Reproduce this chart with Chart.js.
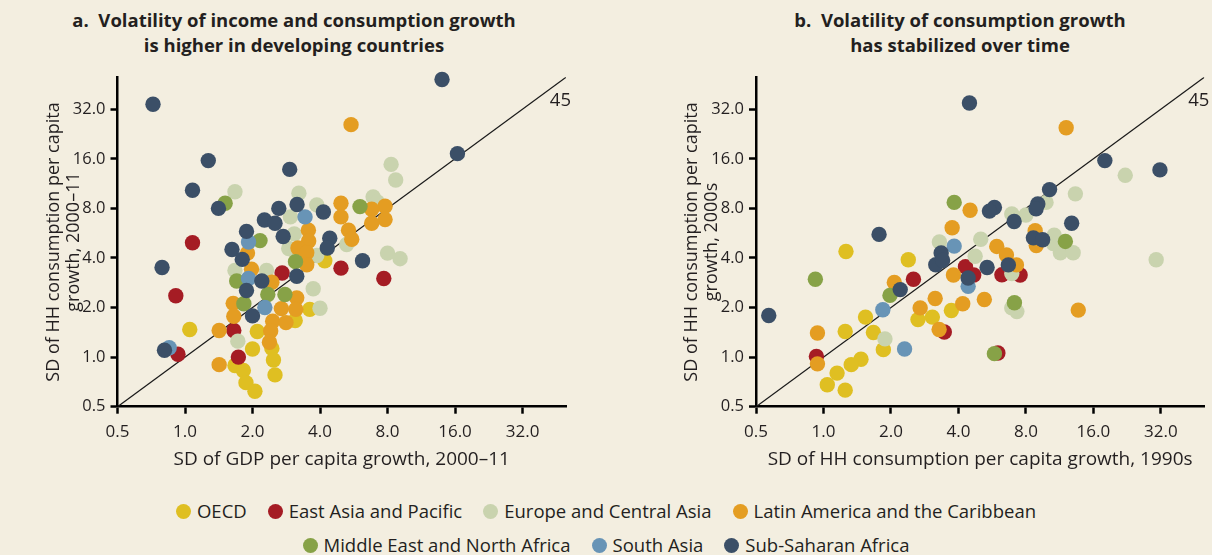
<!DOCTYPE html>
<html><head><meta charset="utf-8">
<script src="https://cdn.jsdelivr.net/npm/chart.js@4.4.1/dist/chart.umd.min.js"></script>
<style>
html,body{margin:0;padding:0;background:#f3eee0;width:1212px;height:555px;overflow:hidden;font-family:"Open Sans",sans-serif;color:#231f20}
.title{position:absolute;text-align:center;font-weight:700;font-size:18.5px;line-height:25px;width:560px}
.wrap{position:absolute;top:0;width:606px;height:480px}
.legend{position:absolute;left:0;width:1212px;display:flex;justify-content:center;font-size:18.5px;line-height:24px}
.item{display:flex;align-items:center;margin:0 10.5px}
.dot{width:15px;height:15px;border-radius:50%;margin-right:6px}
</style>
</head><body>
<div class="title" style="left:14px;top:7px">a.&nbsp; Volatility of income and consumption growth<br>is higher in developing countries</div>
<div class="title" style="left:680px;top:7px">b.&nbsp; Volatility of consumption growth<br>has stabilized over time</div>
<div class="wrap" style="left:0"><canvas id="cA"></canvas></div>
<div class="wrap" style="left:606px"><canvas id="cB"></canvas></div>
<div class="legend" id="leg1" style="top:499px"></div>
<div class="legend" id="leg2" style="top:533px"></div>
<script>
// ---- categories / labels ----
const regions = ["OECD","East Asia and Pacific","Europe and Central Asia","Latin America and the Caribbean","Middle East and North Africa","South Asia","Sub-Saharan Africa"];
const regionColors = ["#dfbf22","#a51c24","#c9d3ae","#e49d22","#87a247","#6894b6","#3b4f67"];
const tickValues = [0.5,1,2,4,8,16,32];
const titleXA = "SD of GDP per capita growth, 2000–11";
const titleYA = ["SD of HH consumption per capita","growth, 2000–11"];
const titleXB = "SD of HH consumption per capita growth, 1990s";
const titleYB = ["SD of HH consumption per capita","growth, 2000s"];
const diagLabel = "45";
const diagLine = [[0.5,0.5],[50,50]];

// ---- panel a: [SD GDP pc growth, SD HH consumption pc growth] ----
const aOECD = [[4.2,3.85],[3.6,1.95],[3.1,1.67],[1.05,1.47],[2.1,1.43],[2.0,1.12],[2.44,1.13],[2.48,0.96],[1.67,0.89],[1.82,0.83],[1.87,0.70],[2.52,0.78],[2.05,0.62]];
const aEAP = [[1.08,4.95],[0.91,2.36],[0.93,1.04],[1.65,1.45],[1.73,1.0],[2.71,3.24],[4.96,3.47],[7.7,3.0]];
const aECA = [[1.67,10.1],[3.22,9.9],[3.87,8.4],[2.95,7.1],[8.3,14.8],[8.7,11.9],[6.9,9.4],[7.2,8.75],[3.07,5.6],[5.26,4.83],[2.9,4.57],[8.0,4.28],[9.1,3.96],[3.87,4.14],[1.67,3.36],[2.31,3.36],[3.73,2.6],[4.0,1.98],[1.72,1.25]];
const aLAC = [[5.5,25.8],[4.96,8.6],[4.96,7.1],[7.8,8.25],[6.8,7.9],[7.8,6.85],[6.8,6.5],[5.36,5.9],[5.54,5.2],[3.55,5.9],[3.56,5.07],[3.19,4.6],[3.49,4.3],[1.9,4.28],[3.49,3.64],[1.98,3.42],[2.44,2.85],[3.15,2.29],[1.64,2.12],[1.65,1.77],[2.69,1.97],[3.12,1.95],[2.46,1.65],[2.82,1.62],[1.42,1.45],[2.41,1.44],[2.38,1.23],[1.42,0.9]];
const aMENA = [[1.51,8.6],[6.03,8.2],[2.16,5.1],[3.11,3.8],[1.7,2.9],[2.34,2.4],[2.79,2.4],[1.83,2.11]];
const aSAS = [[3.43,7.1],[1.92,5.0],[1.92,3.0],[2.27,2.0],[0.85,1.14]];
const aSSA = [[0.72,34.3],[14.0,48.5],[1.27,15.6],[1.08,10.3],[1.41,8.0],[2.93,13.8],[3.16,8.45],[2.62,8.0],[4.14,7.6],[2.26,6.8],[2.52,6.5],[16.4,17.2],[1.88,5.8],[2.74,5.4],[4.42,5.27],[4.31,4.6],[1.62,4.5],[1.8,3.92],[6.19,3.85],[0.79,3.5],[3.15,3.1],[2.2,2.9],[1.88,2.54],[2.0,1.78],[0.81,1.1]];

// ---- panel b: [SD HH cons pc growth 1990s, SD HH cons pc growth 2000s] ----
const bOECD = [[1.26,4.38],[2.39,3.9],[1.54,1.75],[2.64,1.69],[3.06,1.75],[3.72,1.92],[1.25,1.43],[1.67,1.41],[1.85,1.11],[1.47,0.97],[1.33,0.9],[1.15,0.80],[1.04,0.68],[1.25,0.63]];
const bEAP = [[4.3,3.54],[4.68,3.15],[2.52,2.97],[6.25,3.16],[7.54,3.15],[3.46,1.42],[0.93,1.01],[6.0,1.06]];
const bECA = [[22.2,12.7],[13.3,9.8],[9.84,8.7],[6.92,7.4],[8.0,7.3],[5.03,5.2],[3.29,5.0],[4.75,4.1],[6.92,3.22],[10.7,5.5],[11.4,4.3],[13.0,4.3],[10.6,4.9],[30.5,3.9],[1.88,1.29],[6.92,1.99],[7.29,1.89]];
const bLAC = [[12.1,24.7],[4.51,7.8],[3.75,6.1],[8.8,5.85],[8.9,4.76],[5.93,4.7],[6.55,4.17],[7.26,3.63],[3.8,3.15],[2.07,2.84],[3.15,2.27],[2.7,1.99],[4.18,2.11],[5.22,2.24],[3.28,1.47],[0.94,1.4],[0.94,0.91],[13.7,1.93]];
const bMENA = [[3.83,8.7],[0.92,2.97],[1.98,2.37],[12.0,5.04],[7.11,2.14],[5.79,1.05]];
const bSAS = [[3.83,4.72],[4.42,2.69],[1.84,1.94],[2.3,1.12]];
const bSSA = [[4.48,34.9],[18.0,15.6],[31.7,13.7],[10.2,10.4],[9.04,8.5],[8.88,7.96],[5.79,8.1],[5.5,7.7],[7.09,6.66],[12.8,6.5],[1.77,5.56],[8.64,5.3],[9.5,5.16],[3.35,4.29],[3.17,3.64],[3.4,3.86],[4.42,3.02],[5.37,3.5],[6.68,3.63],[2.2,2.57],[0.57,1.79]];

const panelA = [aOECD,aEAP,aECA,aLAC,aMENA,aSAS,aSSA];
const panelB = [bOECD,bEAP,bECA,bLAC,bMENA,bSAS,bSSA];

const FONT = '"Open Sans", sans-serif';
const INK = '#231f20';
Chart.defaults.font.family = FONT;
Chart.defaults.color = INK;

const diagPlugin = {
  id: 'diag45',
  afterDatasetsDraw(chart){
    const {ctx, scales:{x,y}} = chart;
    const px = x.getPixelForValue(diagLine[1][0]), py = y.getPixelForValue(diagLine[1][1]);
    ctx.save();
    ctx.font = '18.5px ' + FONT; ctx.fillStyle = INK;
    ctx.textAlign = 'right'; ctx.textBaseline = 'middle';
    ctx.fillText(diagLabel, px + 5, py + 23);
    ctx.restore();
  }
};

function makeChart(id, panel, xTitle, yTitle, yWidth, padRight, yTitlePad){
  const datasets = panel.map((pts, i) => ({
    label: regions[i],
    data: pts.map(p => ({x:p[0], y:p[1]})),
    backgroundColor: regionColors[i],
    borderWidth: 0,
    pointRadius: 7.7,
    pointHoverRadius: 7.7,
    order: 7 - i,
    clip: false
  }));
  datasets.push({
    type: 'line', label: 'diag',
    data: diagLine.map(p => ({x:p[0], y:p[1]})),
    borderColor: '#1a1a1a', borderWidth: 1.3, pointRadius: 0, fill: false, order: 20
  });
  return new Chart(document.getElementById(id), {
    type: 'scatter',
    data: {datasets},
    plugins: [diagPlugin],
    options: {
      responsive: true, maintainAspectRatio: false, animation: false, devicePixelRatio: 1,
      layout: {padding: {left: 0, right: padRight, top: 77.3, bottom: 0}},
      plugins: {legend: {display: false}, tooltip: {enabled: false}, title: {display: false}},
      scales: {
        x: {
          type: 'logarithmic', min: 0.5, max: 50,
          afterBuildTicks: s => { s.ticks = tickValues.map(v => ({value: v})); },
          afterFit: s => { s.height = 73.3; },
          ticks: {callback: v => Number(v).toFixed(1), font: {size: 17}, color: INK, padding: 8, maxRotation: 0, autoSkip: false},
          grid: {display: true, drawOnChartArea: false, drawTicks: true, tickLength: 7, tickWidth: 2.5, tickColor: '#000'},
          border: {display: true, color: '#000', width: 2.5},
          title: {display: true, text: xTitle, font: {size: 19}, color: INK, padding: {top: 0, bottom: 9}}
        },
        y: {
          type: 'logarithmic', min: 0.5, max: 50,
          afterBuildTicks: s => { s.ticks = tickValues.map(v => ({value: v})); },
          afterFit: s => { s.width = yWidth; },
          ticks: {callback: v => Number(v).toFixed(1), font: {size: 16.5}, color: INK, padding: 5, autoSkip: false},
          grid: {display: true, drawOnChartArea: false, drawTicks: true, tickLength: 7, tickWidth: 2.5, tickColor: '#000'},
          border: {display: true, color: '#000', width: 2.5},
          title: {display: true, text: yTitle, font: {size: 18, lineHeight: 1.12}, color: INK, padding: {top: yTitlePad, bottom: 0}}
        }
      }
    }
  });
}

makeChart('cA', panelA, titleXA, titleYA, 117.5, 40, 44);
makeChart('cB', panelB, titleXB, titleYB, 150, 7.7, 76);

// ---- legend (HTML text) ----
const rows = [[0,1,2,3],[4,5,6]];
rows.forEach((r, k) => {
  const el = document.getElementById(k === 0 ? 'leg1' : 'leg2');
  r.forEach(i => {
    const it = document.createElement('div'); it.className = 'item';
    const d = document.createElement('span'); d.className = 'dot'; d.style.background = regionColors[i];
    const t = document.createElement('span'); t.textContent = regions[i];
    it.appendChild(d); it.appendChild(t); el.appendChild(it);
  });
});
</script>
</body></html>
